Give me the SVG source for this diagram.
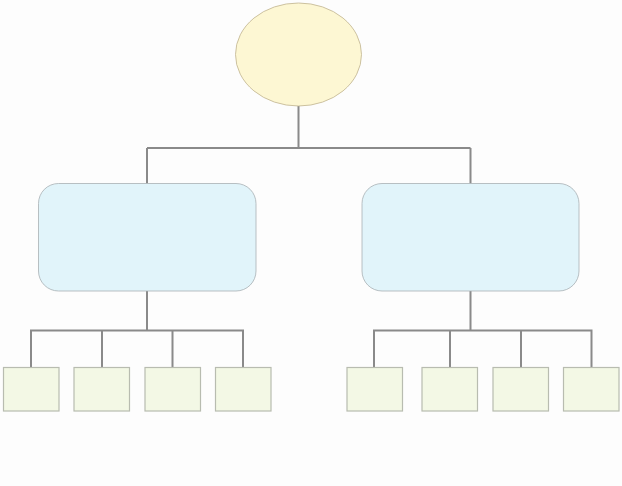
<svg xmlns="http://www.w3.org/2000/svg" width="622" height="486" viewBox="0 0 622 486">
<style>
.c{fill:none;stroke:#8a8a8a;stroke-width:2}
.root{fill:#fdf7d3;stroke:#bfb28e;stroke-width:0.8}
.mid{fill:#e1f4fa;stroke:#a8b0b4;stroke-width:0.8}
.leaf{fill:#f3f8e5;stroke:#b8bcb0;stroke-width:1.2}
</style>
<rect width="622" height="486" fill="#fdfdfd"/>
<g id="connectors">
<path class="c" d="M298.5 106V148M147 148H470.5M147 148V183.5M470.5 148V183.5"/>
<path class="c" d="M147 291V330.5M31 367.5V330.5H243V367.5M102 330.5V367.5M172.5 330.5V367.5"/>
<path class="c" d="M470.5 291V330.5M374 367.5V330.5H591.5V367.5M450 330.5V367.5M521 330.5V367.5"/>
</g>
<g id="root"><ellipse class="root" cx="298.5" cy="54.5" rx="63" ry="51.5"/></g>
<g id="left"><rect class="mid" x="38.5" y="183.5" width="217.5" height="107.5" rx="20"/></g>
<g id="right"><rect class="mid" x="362" y="183.5" width="217" height="107.5" rx="20"/></g>
<g id="l1"><rect class="leaf" x="3.5" y="367.5" width="55.5" height="43.5"/></g>
<g id="l2"><rect class="leaf" x="74" y="367.5" width="55.5" height="43.5"/></g>
<g id="l3"><rect class="leaf" x="145" y="367.5" width="55.5" height="43.5"/></g>
<g id="l4"><rect class="leaf" x="215.5" y="367.5" width="55.5" height="43.5"/></g>
<g id="r1"><rect class="leaf" x="347" y="367.5" width="55.5" height="43.5"/></g>
<g id="r2"><rect class="leaf" x="422" y="367.5" width="55.5" height="43.5"/></g>
<g id="r3"><rect class="leaf" x="493" y="367.5" width="55.5" height="43.5"/></g>
<g id="r4"><rect class="leaf" x="563.5" y="367.5" width="55.5" height="43.5"/></g>
</svg>
